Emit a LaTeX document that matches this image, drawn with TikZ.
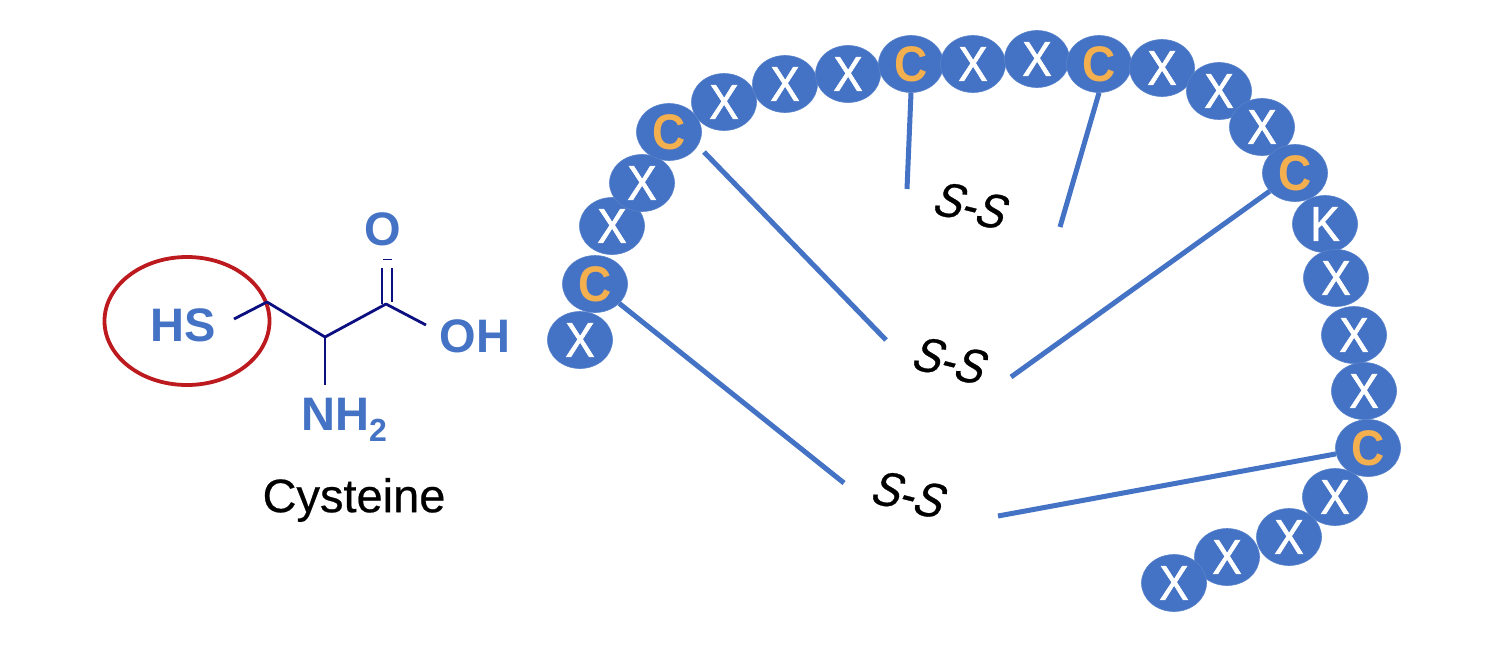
\documentclass[tikz,border=0pt]{standalone}
\usepackage{fontspec}
\setmainfont{Liberation Sans}
\newfontfamily\beadface[FakeBold=1.4,FakeStretch=0.9]{Liberation Sans}
\newfontfamily\cysface[FakeStretch=0.92]{Liberation Sans}
\newfontfamily\labelface[FakeBold=0.5]{Liberation Sans}
\newfontfamily\bridgeface[FakeBold=0.6,FakeSlant=0.2,FakeStretch=0.88]{Liberation Sans}
\usetikzlibrary{calc,positioning,shapes.geometric}
\definecolor{beadblue}{HTML}{4472C4}
\definecolor{cysorange}{HTML}{F4B04F}
\definecolor{bondnavy}{HTML}{0B0F80}
\definecolor{ringred}{HTML}{BC1A1E}
\newcommand{\fpx}[1]{\fontsize{#1}{#1}\selectfont}

\begin{document}
\begin{tikzpicture}[
    x=1pt, y=-1pt,
    res/.style={ellipse, fill=beadblue, draw=beadblue!88!white, line width=0.6pt, minimum width=65pt, minimum height=57pt, inner sep=0pt, text=white, font=\beadface\fpx{49}},
    cys/.style={res, text=cysorange, font=\cysface\fpx{50}\bfseries},
    link/.style={draw=beadblue, line width=5pt},
    bond/.style={draw=bondnavy, line width=2.8pt, line join=round},
    atom/.style={text=beadblue, inner sep=0pt, font=\fpx{47}\bfseries},
    bridge/.style={inner sep=0pt, rotate=-14, font=\bridgeface\fpx{49}}
]
  \useasboundingbox (0,0) rectangle (1506,662);

  \foreach \i/\x/\y/\s/\t in {0/580/340/res/X,1/595/284/cys/C,2/612/226/res/X,3/642/183/res/X,
      4/669/132/cys/C,5/724/102/res/X,6/785/84/res/X,7/848/74/res/X,8/911/64/cys/C,
      9/973/64/res/X,10/1037/59/res/X,11/1099/64/cys/C,12/1162/68/res/X,13/1219/91/res/X,
      14/1262/127/res/X,15/1295/173/cys/C,16/1325/224/res/K,17/1336/278/res/X,18/1354/335/res/X,
      19/1364/391/res/X,20/1368/448/cys/C,21/1335/497/res/X,22/1289/537/res/X,
      23/1227/557/res/X,24/1174/583/res/X} {
    \node[\s] (res-\i) at (\x,\y) {\t};
  }

  \node[bridge] (bridge-top) at (969,205) {S-S};
  \node[bridge] (bridge-mid) at (948,360) {S-S};
  \node[bridge] (bridge-low) at (907,494) {S-S};

  \coordinate (gap-4) at (704,152);
  \coordinate (end-1) at (844,483);
  \coordinate (end-20) at (998,516);
  \coordinate (end-4) at (886,340);
  \coordinate (end-15) at (1011,377);
  \coordinate (end-8) at (907,189);
  \coordinate (end-11) at (1060,227);

  \draw[link] (res-1) -- (end-1);
  \draw[link] (res-20) -- (end-20);
  \draw[link] (gap-4) -- (end-4);
  \draw[link] (res-15) -- (end-15);
  \draw[link] (res-8.south) -- (end-8);
  \draw[link] (res-11.south) -- (end-11);

  \node[atom] (atom-hs) at (183,325) {HS};
  \node[atom] (atom-o) at (383,229) {O};
  \node[atom] (atom-oh) at (475,336) {OH};
  \node[atom] (atom-nh) at (344,420) {NH\raisebox{-0.24em}{\fpx{32}2}};
  \node[font=\labelface\fpx{47}] (label-cys) at (354,500) {Cysteine};
  \node[ellipse, draw=ringred, line width=3.8pt, minimum width=165pt, minimum height=128pt, inner sep=0pt] (ring-hs) at (187,321) {};

  \coordinate (c-beta) at (267,302);
  \coordinate (c-alpha) at (325,337);
  \coordinate (c-acid) at (386,304);
  \coordinate (end-hs) at (234,319);
  \coordinate (end-oh) at (426,325);
  \coordinate (end-nh) at (325,385);

  \draw[bond] (end-hs) -- (c-beta) -- (c-alpha) -- (c-acid) -- (end-oh);
  \draw[bond] (c-alpha) -- (end-nh);
  \draw[bond] ([xshift=-4pt]c-acid) -- ([xshift=-4pt,yshift=36pt]c-acid);
  \draw[bond] ([xshift=6pt,yshift=2pt]c-acid) -- ([xshift=6pt,yshift=36pt]c-acid);
  \draw[bond, line width=1pt] ([xshift=-3pt,yshift=45pt]c-acid) -- ([xshift=6pt,yshift=45pt]c-acid);
\end{tikzpicture}
\end{document}
